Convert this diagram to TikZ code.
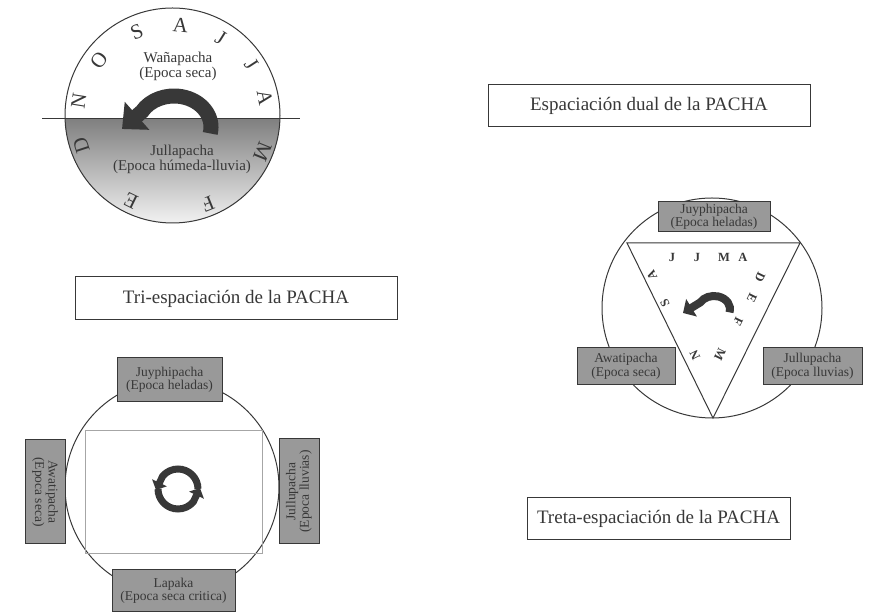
\documentclass[tikz,border=0pt]{standalone}
\usepackage{fontspec}
\setmainfont{Liberation Serif}
\usetikzlibrary{arrows.meta}
\definecolor{ink}{gray}{0.22}
\definecolor{shade}{gray}{0.6}
\def\fsize#1{\fontsize{#1}{#1}\selectfont}
\def\dink{\draw[ink,line width=1pt]}
\tikzset{
  titlebox/.style={draw=ink,line width=1pt,fill=white,text=ink,inner sep=0pt,font=\fsize{19}},
  seasonbox/.style={draw=ink,line width=1pt,fill=shade,text=ink,align=center,inner sep=0pt,font=\fsize{13.5}},
  plainlab/.style={text=ink,align=center,font=\fsize{15}},
  mon/.style={text=ink,font=\fsize{21}},
  tmon/.style={text=ink,font=\bfseries\fsize{12.5}},
}

\begin{document}
\begin{tikzpicture}[x=1pt,y=1pt]
\useasboundingbox (0,0) rectangle (871,615);
% dual pacha
\coordinate (dc) at (172.5,499.5);
\begin{scope}
  \clip (dc) circle (107.5);
  \fill[shade] (60,380) rectangle (290,496);
\end{scope}
\dink (dc) circle (107.5);
\dink (42,496) -- (300,496);
\node[plainlab] (wana) at (178,549) {Wañapacha\\(Epoca seca)};
\node[plainlab] (julla) at (182,456) {Jullapacha\\(Epoca húmeda-lluvia)};
\begin{scope}[shift={(dc)}]
  \foreach \a/\r/\m [count=\i] in {171/95/N,143/92/O,113/91/S,85/91/A,58/91/J,33/94/J,
      11/94/A,-22/97/M,-68/95/F,-116/95/E,-162/96/D}
    \node[mon,rotate=\a-90] (dm\i) at (\a:\r) {\m};
\end{scope}
\draw[ink,line width=15pt,-{Triangle[length=20pt,width=36pt]}]
  (174,488) ++(-12:37 and 31) arc[start angle=-12,end angle=150,x radius=37,y radius=31] -- (122,486);
\node[titlebox,minimum width=322pt,minimum height=42pt] (dual) at (649,509) {Espaciación dual de la PACHA};

% tri pacha
\coordinate (tc) at (712,307);
\dink (tc) circle (110);
\dink (627,372) -- (800,372) -- (713,197) -- cycle;
\node[seasonbox,minimum width=112pt,minimum height=30pt] (juy3) at (714,398) {Juyphipacha\\(Epoca heladas)};
\node[seasonbox,minimum width=98pt,minimum height=37pt] (awa3) at (626,248.5) {Awatipacha\\(Epoca seca)};
\node[seasonbox,minimum width=99pt,minimum height=37pt] (jul3) at (812.5,248.5) {Jullupacha\\(Epoca lluvias)};
\foreach \x/\y/\m [count=\i] in {672/358/J,697/358/J,724/358/M,743/358/A}
  \node[tmon] (tt\i) at (\x,\y) {\m};
\foreach \x/\y/\m [count=\i] in {760/338/D,752/317/E,738/293/F,720/260/M}
  \node[tmon,rotate=-116] (tr\i) at (\x,\y) {\m};
\foreach \x/\y/\m [count=\i] in {652/340/A,665/312/S,695/260/N}
  \node[tmon,rotate=116] (tl\i) at (\x,\y) {\m};
\draw[ink,line width=8pt,-{Triangle[length=10pt,width=20pt]}]
  (714,306) ++(-15:16 and 13) arc[start angle=-15,end angle=150,x radius=16,y radius=13] -- (683,302);
\node[titlebox,minimum width=263pt,minimum height=42pt] (treta) at (658.5,96) {Treta-espaciación de la PACHA};

% cuatri pacha
\coordinate (qc) at (172,128);
\dink (qc) circle (107);
\draw[black!35,line width=0.8pt] (85,62) rectangle (262,185);
\node[seasonbox,minimum width=105pt,minimum height=44pt] (juy4) at (169.5,235) {Juyphipacha\\(Epoca heladas)};
\node[seasonbox,minimum width=123pt,minimum height=42pt] (lap4) at (173.5,24) {Lapaka\\(Epoca seca critica)};
\node[seasonbox,rotate=-90,minimum width=104pt,minimum height=40pt] (awa4) at (45,123) {Awatipacha\\(Epoca seca)};
\node[seasonbox,rotate=90,minimum width=105pt,minimum height=40pt] (jul4) at (299,123.5) {Jullupacha\\(Epoca lluvias)};
\draw[ink,line width=7pt,-{Triangle[length=8pt,width=16pt]}]
  (178,126) ++(0:20) arc[start angle=0,end angle=140,radius=20] -- (156,125);
\draw[ink,line width=7pt,-{Triangle[length=8pt,width=16pt]}]
  (178,126) ++(180:20) arc[start angle=180,end angle=320,radius=20] -- (200,127);
\node[titlebox,minimum width=322pt,minimum height=43pt] (tri) at (236,316.5) {Tri-espaciación de la PACHA};
\end{tikzpicture}
\end{document}
